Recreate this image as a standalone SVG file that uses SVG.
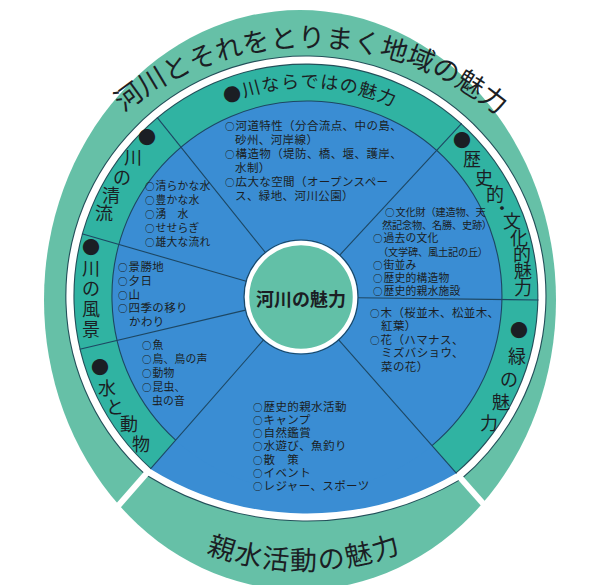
<svg xmlns="http://www.w3.org/2000/svg" width="600" height="585" viewBox="0 0 600 585">
<style>
text{font-family:"Noto Sans CJK JP","Noto Sans CJK SC",sans-serif;fill:#1b1e24}
.lbl{font-size:18px}
.t{font-size:27px}
.sep{stroke:#1d4763;stroke-width:1.1;fill:none}
.wsep{stroke:#ffffff;stroke-width:6;fill:none}
.i12{font-size:11.5px;letter-spacing:0.4px}
.i11{font-size:10.8px;letter-spacing:0.2px}
.i10{font-size:10.2px;letter-spacing:-0.2px}
.o{font-size:9.5px;letter-spacing:1px;font-weight:bold}
</style>
<defs>
<path id="wring" d="M 148.2 471.6 A 236 236 0 1 1 458.7 475.9 A 301 301 0 0 1 148.2 471.6 Z"/>
</defs>
<rect width="600" height="585" fill="#ffffff"/>
<g id="outer-ring">
<ellipse cx="300" cy="300" rx="256" ry="290" fill="#66c0a7"/>
<text id="title" class="t" x="123.47 145.30 168.59 192.94 218.27 244.39 271.09 298.11 325.14 352.09 378.67 404.68 429.93 454.12 477.04" y="112.35 96.34 82.40 70.63 61.15 54.05 49.34 47.14 47.36 50.10 55.28 62.81 72.79 84.96 99.31" rotate="-36.2 -30.96 -25.71 -20.47 -15.23 -9.99 -4.74 0.5 5.74 10.99 16.23 21.47 26.72 31.96 37.2">河川とそれをとりまく地域の魅力</text>
</g>
<g id="middle-ring">
<use href="#wring" fill="#30b3a2" stroke="#23505a" stroke-width="9.2"/>
<path d="M 301 297 L 458.7 475.9 A 301 301 0 0 1 148.2 471.6 Z" fill="#3a8dd3"/>
<circle cx="307" cy="296" r="195" fill="#3a8dd3"/>
<path class="sep" d="M 175.7 440.2 A 195 195 0 1 1 432.0 445.6"/>
</g>
<g id="white-ring">
<use href="#wring" fill="none" stroke="#ffffff" stroke-width="7"/>
</g>
<g id="connectors">
<line class="sep" x1="265.4" y1="252.5" x2="157.1" y2="117.4"/>
<line class="sep" x1="246.2" y1="281.2" x2="81.9" y2="233.8"/>
<line class="sep" x1="245.5" y1="310.1" x2="79.7" y2="349.3"/>
<line class="sep" x1="263.5" y1="339.9" x2="150.5" y2="468.9"/>
<line class="sep" x1="338.7" y1="339.8" x2="456.5" y2="473.3"/>
<line class="sep" x1="358" y1="297.7" x2="538.5" y2="300"/>
<line class="sep" x1="339.7" y1="255.2" x2="461.7" y2="123.4"/>
<line class="wsep" x1="148.2" y1="471.6" x2="103.4" y2="522.7"/>
<line class="wsep" x1="458.7" y1="475.9" x2="499.4" y2="522"/>
</g>
<g id="center">
<circle cx="301" cy="297" r="57" fill="none" stroke="#1d4763" stroke-width="1.2"/>
<circle cx="301" cy="297" r="54" fill="#62c0a7" stroke="#ffffff" stroke-width="4.5"/>
<text x="301" y="298" font-size="18" font-weight="bold" text-anchor="middle" dominant-baseline="central">河川の魅力</text>
</g>
<g id="kawa-naradeha">
<text class="lbl" x="226.03 243.97 262.57 281.44 300.58 319.80 338.80 357.60 375.88" y="103.74 97.13 92.25 89.10 87.68 88.11 90.28 94.22 99.81" rotate="-20.3 -14.98 -9.65 -4.33 1 6.32 11.65 16.97 22.3">●川ならではの魅力</text>
<text class="i12" x="225" y="130"><tspan class="o">○</tspan>河道特性（分合流点、中の島、</text>
<text class="i12" x="235" y="144">砂州、河岸線）</text>
<text class="i12" x="225" y="158"><tspan class="o">○</tspan>構造物（堤防、橋、堰、護岸、</text>
<text class="i12" x="235" y="172">水制）</text>
<text class="i12" x="225" y="186"><tspan class="o">○</tspan>広大な空間（オープンスペー</text>
<text class="i12" x="235" y="200">ス、緑地、河川公園）</text>
</g>
<g id="rekishi">
<text class="lbl" x="453 463 475" y="146.8 165.8 184.8">●歴史</text>
<text class="lbl" x="486 493" y="200.8 214.8">的・</text>
<text class="lbl" x="503 510 513 514 514" y="227.8 244.8 260.8 277.8 294.8">文化的魅力</text>
<text class="i10" x="385" y="216"><tspan class="o">○</tspan>文化財（建造物、天</text>
<text class="i10" x="382" y="229">然記念物、名勝、史跡）</text>
<text class="i11" x="373" y="242"><tspan class="o">○</tspan>過去の文化</text>
<text class="i10" x="378" y="256">（文学碑、風土記の丘）</text>
<text class="i11" x="373" y="269"><tspan class="o">○</tspan>街並み</text>
<text class="i11" x="373" y="282"><tspan class="o">○</tspan>歴史的構造物</text>
<text class="i11" x="373" y="295"><tspan class="o">○</tspan>歴史的親水施設</text>
</g>
<g id="midori">
<text class="lbl" x="510 508 500" y="336.8 362.8 385.8">●緑の</text>
<text class="lbl" x="492 480" y="408.8 429.8">魅力</text>
<text class="i12" x="370" y="317"><tspan class="o">○</tspan>木（桜並木、松並木、</text>
<text class="i12" x="381" y="330">紅葉）</text>
<text class="i12" x="370" y="344"><tspan class="o">○</tspan>花（ハマナス、</text>
<text class="i12" x="381" y="357">ミズバショウ、</text>
<text class="i12" x="381" y="371">菜の花）</text>
</g>
<g id="shinsui">
<text class="i12" x="253" y="411"><tspan class="o">○</tspan>歴史的親水活動</text>
<text class="i12" x="253" y="424"><tspan class="o">○</tspan>キャンプ</text>
<text class="i12" x="253" y="437"><tspan class="o">○</tspan>自然鑑賞</text>
<text class="i12" x="253" y="450"><tspan class="o">○</tspan>水遊び、魚釣り</text>
<text class="i12" x="253" y="464"><tspan class="o">○</tspan>散　策</text>
<text class="i12" x="253" y="477"><tspan class="o">○</tspan>イベント</text>
<text class="i12" x="253" y="490"><tspan class="o">○</tspan>レジャー、スポーツ</text>
<text class="t" x="206.04 233.41 261.54 290.12 318.74 347.29 375.36" y="553.34 561.84 567.56 570.29 570.11 567.01 561.08" rotate="17.46 11.6 5.74 -0.12 -5.98 -11.84 -17.7">親水活動の魅力</text>
</g>
<g id="mizu-dobutsu">
<text class="lbl" x="91 98 106" y="373.8 394.8 413.8">●水と</text>
<text class="lbl" x="120 132" y="430.8 450.8">動物</text>
<text class="i11" x="142" y="349"><tspan class="o">○</tspan>魚</text>
<text class="i11" x="142" y="363"><tspan class="o">○</tspan>鳥、鳥の声</text>
<text class="i11" x="142" y="377"><tspan class="o">○</tspan>動物</text>
<text class="i11" x="142" y="391"><tspan class="o">○</tspan>昆虫、</text>
<text class="i11" x="152" y="405">虫の音</text>
</g>
<g id="fukei">
<text class="lbl" x="82 82 82 82 82" y="253.8 274.8 294.8 315.8 335.8">●川の風景</text>
<text class="i12" x="118" y="271"><tspan class="o">○</tspan>景勝地</text>
<text class="i12" x="118" y="285"><tspan class="o">○</tspan>夕日</text>
<text class="i12" x="118" y="299"><tspan class="o">○</tspan>山</text>
<text class="i12" x="118" y="312"><tspan class="o">○</tspan>四季の移り</text>
<text class="i12" x="129" y="326">かわり</text>
</g>
<g id="seiryu">
<text class="lbl" x="138 124" y="143.8 163.8">●川</text>
<text class="lbl" x="113 102 95" y="183.8 201.8 219.8">の清流</text>
<text class="i11" x="145" y="190"><tspan class="o">○</tspan>清らかな水</text>
<text class="i11" x="145" y="204"><tspan class="o">○</tspan>豊かな水</text>
<text class="i11" x="145" y="218"><tspan class="o">○</tspan>湧　水</text>
<text class="i11" x="145" y="232"><tspan class="o">○</tspan>せせらぎ</text>
<text class="i11" x="145" y="246"><tspan class="o">○</tspan>雄大な流れ</text>
</g>
</svg>
